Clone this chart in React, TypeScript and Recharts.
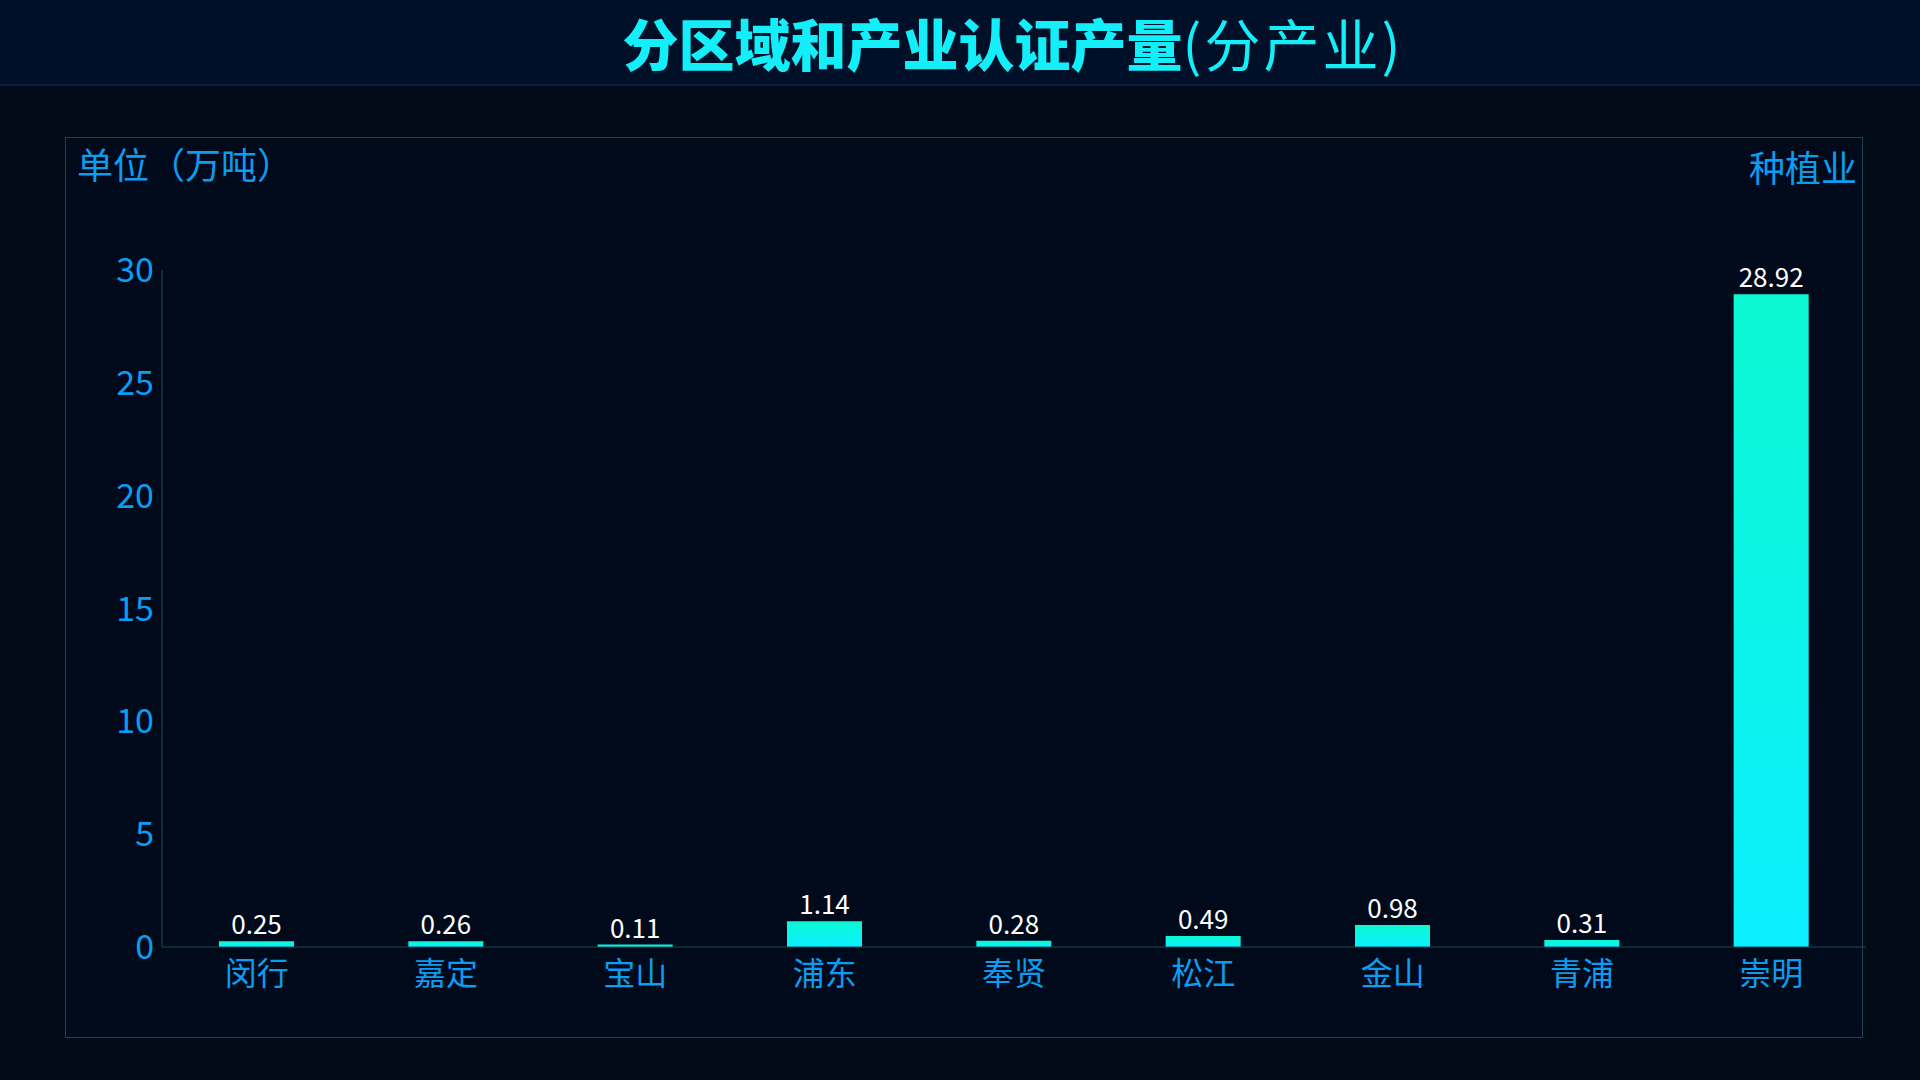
import { BarChart, Bar, XAxis, YAxis, LabelList } from 'recharts';

const districts = ['闵行', '嘉定', '宝山', '浦东', '奉贤', '松江', '金山', '青浦', '崇明'];
const output = [0.25, 0.26, 0.11, 1.14, 0.28, 0.49, 0.98, 0.31, 28.92];
const yTicks = [0, 5, 10, 15, 20, 25, 30];

const FONT = '"Noto Sans CJK SC", "Noto Sans", sans-serif';

export default function App() {
  const data = districts.map((name, i) => ({ name, value: output[i] }));

  return (
    <div
      style={{
        position: 'absolute',
        left: 0,
        top: 0,
        width: 1920,
        height: 1080,
        background: '#020a17',
        fontFamily: FONT,
        overflow: 'hidden',
      }}
    >
      {/* header band */}
      <div
        style={{
          position: 'absolute',
          left: 0,
          top: 0,
          width: 1920,
          height: 84,
          background: '#001028',
          borderBottom: '2px solid #0b1f45',
        }}
      />
      <div
        style={{
          position: 'absolute',
          left: 0,
          top: 1,
          width: 1920,
          height: 82,
          lineHeight: '82px',
          textAlign: 'center',
          paddingLeft: 106,
          boxSizing: 'border-box',
          color: '#14eef8',
          fontSize: 56,
          whiteSpace: 'nowrap',
        }}
      >
        <span style={{ fontWeight: 900 }}>分区域和产业认证产量</span>
        <span style={{ fontWeight: 400, letterSpacing: 3 }}>(分产业)</span>
      </div>

      {/* panel */}
      <div
        style={{
          position: 'absolute',
          left: 65,
          top: 137,
          width: 1796,
          height: 899,
          border: '1px solid #1b4450',
          background: '#010a1a',
        }}
      />
      <div style={{ position: 'absolute', left: 77, top: 135, color: '#0c9cf0', fontSize: 36, lineHeight: '56px' }}>
        单位（万吨）
      </div>
      <div
        style={{
          position: 'absolute',
          right: 1920 - 1857,
          top: 138,
          color: '#0c9cf0',
          fontSize: 36,
          lineHeight: '56px',
        }}
      >
        种植业
      </div>

      <div style={{ position: 'absolute', left: 0, top: 0 }}>
        <BarChart
          width={1920}
          height={1080}
          data={data}
          margin={{ top: 270, right: 54, bottom: 73, left: 92 }}
        >
          <defs>
            <linearGradient id="barFill" x1="0" y1="0" x2="0" y2="1">
              <stop offset="0%" stopColor="#0cf8d2" />
              <stop offset="100%" stopColor="#0af0ff" />
            </linearGradient>
          </defs>
          <XAxis
            dataKey="name"
            height={60}
            axisLine={{ stroke: '#1b4a55' }}
            tickLine={false}
            tickMargin={9}
            tick={{ fill: '#0c9cf0', fontSize: 32, fontFamily: FONT }}
            interval={0}
          />
          <YAxis
            width={70}
            domain={[0, 30]}
            ticks={yTicks}
            axisLine={{ stroke: '#1b4a55' }}
            tickLine={false}
            tickMargin={2}
            tick={{ fill: '#0c9cf0', fontSize: 34, fontFamily: FONT }}
          />
          <Bar dataKey="value" fill="url(#barFill)" barSize={75} isAnimationActive={false}>
            <LabelList
              dataKey="value"
              position="top"
              offset={7}
              fill="#ffffff"
              fontSize={26}
              fontFamily={FONT}
            />
          </Bar>
        </BarChart>
      </div>
    </div>
  );
}
